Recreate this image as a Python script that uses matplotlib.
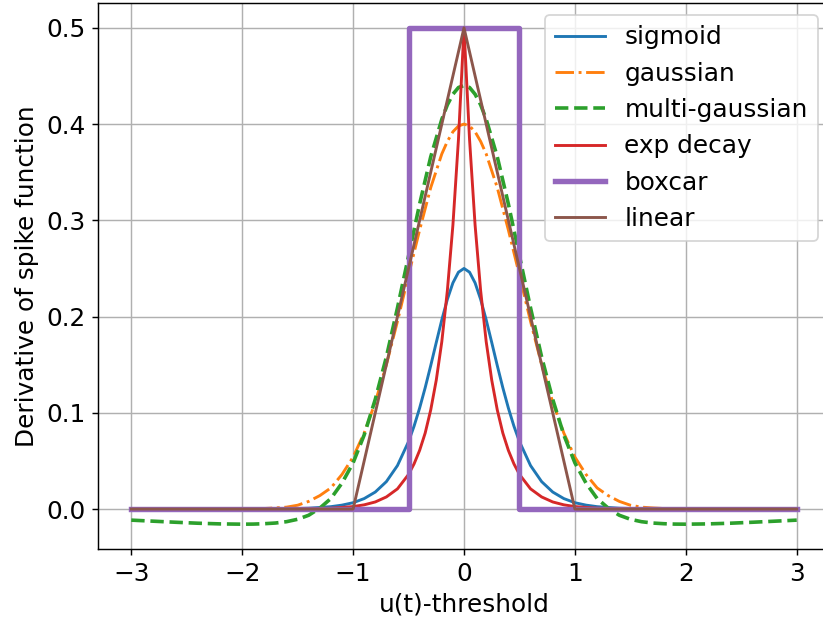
import matplotlib
matplotlib.use("Agg")
import matplotlib.pyplot as plt
import numpy as np

plt.rcParams['font.size'] = 13.7

# values (positive half, curves are symmetric about 0)
x_sig = [0.0, 0.05, 0.1, 0.15, 0.2, 0.25, 0.3, 0.35, 0.4, 0.45, 0.5,
         0.6, 0.7, 0.8, 0.9, 1.0, 1.1, 1.2, 1.4, 1.6, 2.0, 3.0]
y_sig = [0.250, 0.2461, 0.235, 0.2179, 0.1966, 0.1731, 0.1491, 0.1261, 0.105, 0.0862, 0.0701,
         0.0452, 0.0285, 0.0177, 0.0109, 0.0066, 0.0041, 0.0025, 0.0009, 0.0003, 0.0, 0.0]

x_gauss = [0.0, 0.05, 0.1, 0.15, 0.2, 0.3, 0.4, 0.5, 0.6, 0.7, 0.8, 0.9, 1.0,
           1.1, 1.2, 1.3, 1.4, 1.5, 1.6, 1.7, 1.8, 2.0, 2.5, 3.0]
y_gauss = [0.400, 0.398, 0.392, 0.382, 0.369, 0.334, 0.290, 0.243, 0.195, 0.150, 0.111, 0.079, 0.054,
           0.036, 0.022, 0.014, 0.008, 0.004, 0.002, 0.0012, 0.0006, 0.0001, 0.0, 0.0]

x_multi = [0.0, 0.05, 0.1, 0.15, 0.2, 0.3, 0.4, 0.5, 0.6, 0.7, 0.8, 0.9, 1.0,
           1.1, 1.2, 1.3, 1.4, 1.5, 1.6, 1.7, 1.8, 1.9, 2.0, 2.2, 2.4, 2.6, 2.8, 3.0]
y_multi = [0.440, 0.438, 0.431, 0.420, 0.405, 0.366, 0.317, 0.263, 0.209, 0.158, 0.114, 0.077, 0.048,
           0.027, 0.011, 0.001, -0.0064, -0.0106, -0.0131, -0.0145, -0.0152, -0.0156, -0.0157,
           -0.0154, -0.0147, -0.0137, -0.0126, -0.0115]

x_exp = [0.0, 0.05, 0.1, 0.15, 0.2, 0.25, 0.3, 0.35, 0.4, 0.45, 0.5,
         0.6, 0.7, 0.8, 0.9, 1.0, 1.2, 1.4, 1.6, 2.0, 3.0]
y_exp = [0.500, 0.384, 0.295, 0.227, 0.174, 0.134, 0.103, 0.079, 0.061, 0.047, 0.036,
         0.021, 0.0126, 0.0074, 0.0044, 0.0026, 0.0009, 0.0003, 0.0001, 0.0, 0.0]

x_box = [-3, -0.5, -0.5, 0.5, 0.5, 3]
y_box = [0, 0, 0.5, 0.5, 0, 0]

x_lin = [-3, -1, 0, 1, 3]
y_lin = [0, 0, 0.5, 0, 0]


def mirror(xs, ys):
    xs = np.array(xs)
    ys = np.array(ys)
    return np.concatenate([-xs[:0:-1], xs]), np.concatenate([ys[:0:-1], ys])


fig = plt.figure(figsize=(823 / 130, 620 / 130), dpi=130)
ax = fig.add_axes([98 / 823, 71 / 620, 732 / 823, 546 / 620])

ax.plot(*mirror(x_sig, y_sig), color='C0', lw=1.6, label='sigmoid')
ax.plot(*mirror(x_gauss, y_gauss), color='C1', lw=1.6, ls='-.', label='gaussian')
ax.plot(*mirror(x_multi, y_multi), color='C2', lw=2, ls='--', label='multi-gaussian')
ax.plot(*mirror(x_exp, y_exp), color='C3', lw=1.6, label='exp decay')
ax.plot(x_box, y_box, color='C4', lw=3, label='boxcar')
ax.plot(x_lin, y_lin, color='C5', lw=1.6, label='linear')

ax.set_xlabel('u(t)-threshold')
ax.set_ylabel('Derivative of spike function')
ax.grid(True)
ax.legend(loc='upper right')

fig.savefig('out.png', dpi=130)
